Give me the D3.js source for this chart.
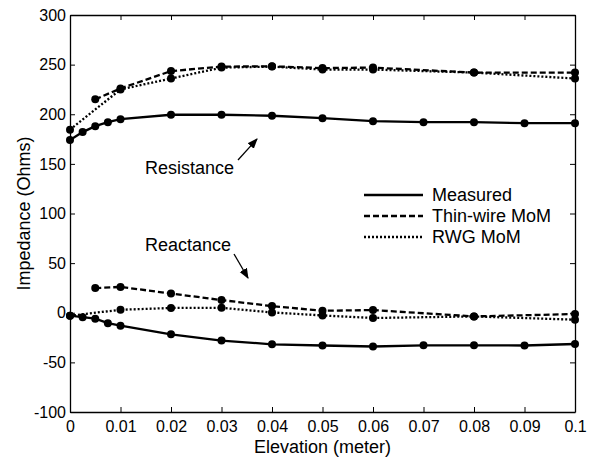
<!DOCTYPE html>
<html><head><meta charset="utf-8">
<script src="https://cdn.jsdelivr.net/npm/d3@7"></script>
<style>body{margin:0;background:#fff}svg{display:block}text{font-family:"Liberation Sans",Arial,Helvetica,sans-serif;fill:#000}</style>
</head><body><div id="chart"></div>
<script>
const xMeasured = [0,0.0025,0.005,0.0075,0.01,0.02,0.03,0.04,0.05,0.06,0.07,0.08,0.09,0.1];
const resMeasured = [174,182,188,192,195,199.5,199.5,198.5,196,193,192,192,191,191];
const reaMeasured = [-3,-4.5,-6,-10.5,-13,-21.7,-28,-31.8,-33,-34,-32.8,-32.8,-33,-31.5];

const xThin = [0.005,0.01,0.02,0.03,0.04,0.05,0.06,0.08,0.1];
const resThin = [215,226,243.5,248,248.3,246.5,247,242,242];
const reaThin = [24.9,26,19.4,12.8,6.7,2,2.7,-3.7,-1.3];

const xRWG = [0,0.01,0.02,0.03,0.04,0.05,0.06,0.08,0.1];
const resRWG = [184.5,225,236,247,248,245,245,242,236];
const reaRWG = [-3,3,4.8,5,0.3,-2.7,-5.3,-3.7,-7];

const xTicks = [0,0.01,0.02,0.03,0.04,0.05,0.06,0.07,0.08,0.09,0.1];
const yTicks = [-100,-50,0,50,100,150,200,250,300];
const legendLabels = ["Measured","Thin-wire MoM","RWG MoM"];

const FONT = '"Liberation Sans",Arial,Helvetica,sans-serif';
const W = 591, H = 457;
const m = {left:70, right:16, top:15, bottom:45};
const svg = d3.select("#chart").append("svg").attr("width",W).attr("height",H);
const x = d3.scaleLinear().domain([0,0.1]).range([m.left, W-m.right]);
const y = d3.scaleLinear().domain([-100,300]).range([H-m.bottom, m.top]);

const styles = [
  {dash:null},
  {dash:"6,3"},
  {dash:"2,2"}
];

// axes with inward ticks
const fmt = d => String(d);
const axB = svg.append("g").attr("transform",`translate(0,${y(-100)})`)
  .call(d3.axisBottom(x).tickValues(xTicks).tickFormat(fmt).tickSizeInner(-5).tickSizeOuter(0).tickPadding(9));
const axL = svg.append("g").attr("transform",`translate(${x(0)},0)`)
  .call(d3.axisLeft(y).tickValues(yTicks).tickFormat(fmt).tickSizeInner(-5).tickSizeOuter(0).tickPadding(4));
const axT = svg.append("g").attr("transform",`translate(0,${y(300)})`)
  .call(d3.axisTop(x).tickValues(xTicks).tickFormat("").tickSizeInner(-5).tickSizeOuter(0));
const axR = svg.append("g").attr("transform",`translate(${x(0.1)},0)`)
  .call(d3.axisRight(y).tickValues(yTicks).tickFormat("").tickSizeInner(-5).tickSizeOuter(0));
[axB,axL,axT,axR].forEach(g=>{
  g.attr("font-family",FONT).attr("font-size",16);
  g.selectAll(".domain").attr("stroke","#000").attr("stroke-width",1.3);
  g.selectAll(".tick line").attr("stroke","#000");
  g.selectAll("text").attr("fill","#000");
});

// series
const series = [
  {xs:xMeasured, ys:resMeasured, s:0},
  {xs:xMeasured, ys:reaMeasured, s:0},
  {xs:xThin, ys:resThin, s:1},
  {xs:xThin, ys:reaThin, s:1},
  {xs:xRWG, ys:resRWG, s:2},
  {xs:xRWG, ys:reaRWG, s:2}
];
const line = d3.line().x(d=>x(d[0])).y(d=>y(d[1]));
series.forEach(sr=>{
  const pts = sr.xs.map((v,i)=>[v,sr.ys[i]]);
  svg.append("path").datum(pts).attr("d",line).attr("fill","none")
    .attr("stroke","#000").attr("stroke-width",2.3)
    .attr("stroke-dasharray",styles[sr.s].dash);
  svg.append("g").selectAll("circle").data(pts).join("circle")
    .attr("cx",d=>x(d[0])).attr("cy",d=>y(d[1])).attr("r",4).attr("fill","#000");
});

// axis labels
svg.append("text").attr("x",(x(0)+x(0.1))/2).attr("y",453).attr("text-anchor","middle")
  .style("font-size","18px").text("Elevation (meter)");
svg.append("text").attr("transform",`translate(30,${(y(300)+y(-100))/2}) rotate(-90)`)
  .attr("text-anchor","middle").style("font-size","18px").text("Impedance (Ohms)");

// legend
const lg = svg.append("g");
legendLabels.forEach((lab,i)=>{
  const ly = 195 + i*21;
  lg.append("line").attr("x1",364).attr("x2",423).attr("y1",ly).attr("y2",ly)
    .attr("stroke","#000").attr("stroke-width",2.3).attr("stroke-dasharray",styles[i].dash);
  lg.append("text").attr("x",432).attr("y",ly+6).style("font-size","18px").text(lab);
});

// annotations
const defs = svg.append("defs");
defs.append("marker").attr("id","ah").attr("viewBox","0 0 10 10").attr("refX",9).attr("refY",5)
  .attr("markerWidth",8).attr("markerHeight",8).attr("orient","auto")
  .append("path").attr("d","M0,1 L10,5 L0,9 Z").attr("fill","#000");
svg.append("text").attr("x",145).attr("y",174).style("font-size","18px").text("Resistance");
svg.append("line").attr("x1",238).attr("y1",160).attr("x2",257).attr("y2",139)
  .attr("stroke","#000").attr("stroke-width",1.3).attr("marker-end","url(#ah)");
svg.append("text").attr("x",145).attr("y",251).style("font-size","18px").text("Reactance");
svg.append("line").attr("x1",234).attr("y1",254).attr("x2",248).attr("y2",278)
  .attr("stroke","#000").attr("stroke-width",1.3).attr("marker-end","url(#ah)");
</script></body></html>
